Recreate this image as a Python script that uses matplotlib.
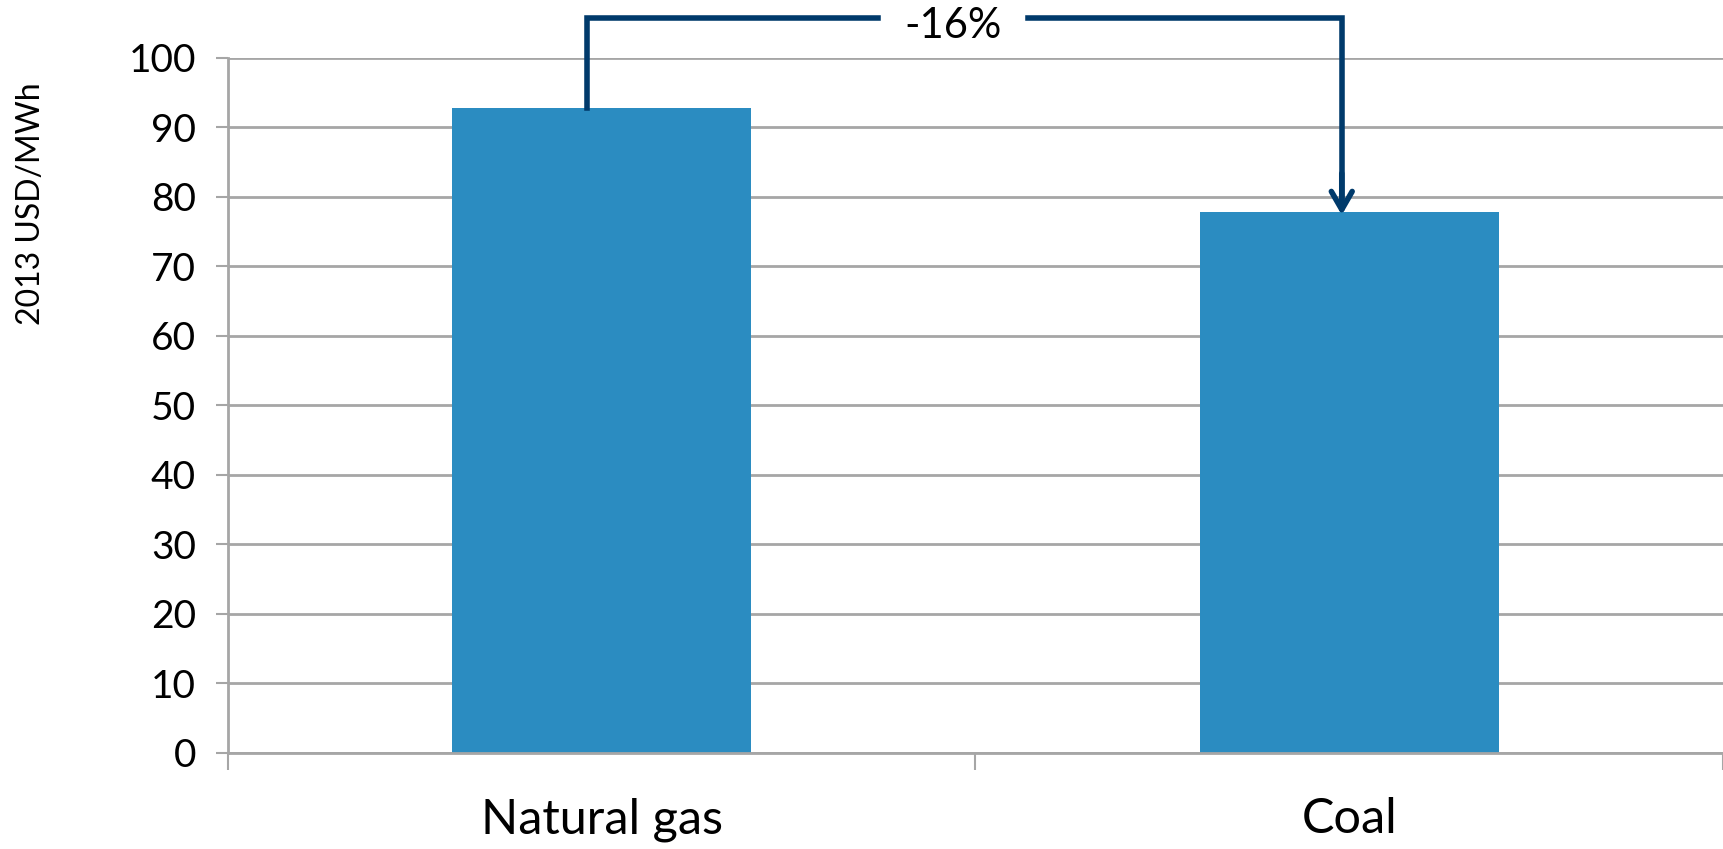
import matplotlib.pyplot as plt
import numpy as np

categories = ['Natural gas', 'Coal']
costs = [92.8, 77.8]
change_label = '-16%'

bar_color = '#2B8CC1'
arrow_color = '#003A6B'
grid_color = '#A6A6A6'

plt.rcParams['font.family'] = ['Lato', 'DejaVu Sans']

fig = plt.figure(figsize=(17.23, 8.49), dpi=100)
ax = fig.add_axes([0.1323, 0.1131, 0.8677, 0.8186])

x = np.arange(len(categories))
ax.bar(x, costs, width=0.4, color=bar_color, zorder=2)

ax.set_xlim(-0.5, len(categories) - 0.5)
ax.set_ylim(0, 100)
ax.set_yticks(np.arange(0, 101, 10))
ax.yaxis.grid(True, color=grid_color, lw=2, zorder=0)
ax.set_axisbelow(True)

# category labels on minor ticks, boundary ticks on major
ax.set_xticks(np.arange(-0.5, len(categories), 1.0))
ax.set_xticklabels([])
ax.set_xticks(x, minor=True)
ax.set_xticklabels(categories, minor=True, fontsize=35)
ax.tick_params(axis='x', which='minor', length=0, pad=32)
ax.tick_params(axis='x', which='major', length=12, width=1.5, color=grid_color, direction='out')
ax.tick_params(axis='y', length=9, width=1.5, color=grid_color, labelsize=28, pad=14)

for side in ['top', 'right']:
    ax.spines[side].set_visible(False)
for side in ['left', 'bottom']:
    ax.spines[side].set_color(grid_color)
    ax.spines[side].set_linewidth(2)

ax.set_ylabel('2013 USD/MWh', fontsize=23)
ax.yaxis.set_label_coords(-0.122, 0.79)

# bracket showing the change from gas to coal
x0, x1 = -0.02, 0.99
top = 105.8
gap_l, gap_r = 0.37, 0.57
ax.plot([x0, x0, gap_l], [costs[0], top, top], color=arrow_color, lw=4,
        clip_on=False, solid_joinstyle='miter', zorder=3)
ax.plot([gap_r, x1, x1], [top, top, costs[1] + 2], color=arrow_color, lw=4,
        clip_on=False, solid_joinstyle='miter', zorder=3)
ax.annotate('', xy=(x1, costs[1] - 0.8), xytext=(x1, costs[1] + 6),
            arrowprops=dict(arrowstyle='->,head_length=1.3,head_width=0.75',
                            color=arrow_color, lw=4),
            annotation_clip=False, zorder=3)
ax.text((gap_l + gap_r) / 2, top - 1.2, change_label, ha='center', va='center',
        fontsize=30, clip_on=False)

fig.savefig('out.png', dpi=100)
